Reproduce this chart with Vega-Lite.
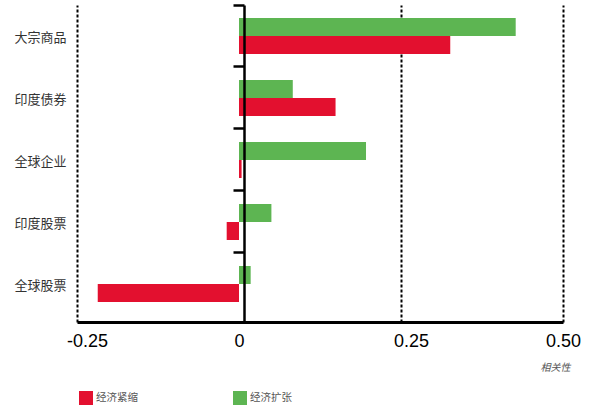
{
  "$schema": "https://vega.github.io/schema/vega-lite/v6.json",
  "width": 486,
  "height": 317,
  "autosize": {"type": "none"},
  "padding": {"left": 77, "top": 5, "right": 32, "bottom": 90},
  "background": "white",
  "config": {"view": {"stroke": null}},
  "data": {
    "values": [
      {"asset": "大宗商品", "regime": "经济扩张", "corr": 0.427},
      {"asset": "大宗商品", "regime": "经济紧缩", "corr": 0.326},
      {"asset": "印度债券", "regime": "经济扩张", "corr": 0.083},
      {"asset": "印度债券", "regime": "经济紧缩", "corr": 0.149},
      {"asset": "全球企业", "regime": "经济扩张", "corr": 0.196},
      {"asset": "全球企业", "regime": "经济紧缩", "corr": 0.004},
      {"asset": "印度股票", "regime": "经济扩张", "corr": 0.05},
      {"asset": "印度股票", "regime": "经济紧缩", "corr": -0.019},
      {"asset": "全球股票", "regime": "经济扩张", "corr": 0.018},
      {"asset": "全球股票", "regime": "经济紧缩", "corr": -0.218}
    ]
  },
  "mark": {"type": "bar"},
  "encoding": {
    "y": {
      "field": "asset",
      "type": "nominal",
      "scale": {
        "domain": ["大宗商品", "印度债券", "全球企业", "印度股票", "全球股票"],
        "paddingInner": 0,
        "paddingOuter": 0.0565,
        "align": 0
      },
      "axis": {
        "title": null,
        "offset": -167,
        "zindex": 1,
        "domainColor": "black",
        "domainWidth": 2.5,
        "tickColor": "black",
        "tickWidth": 2.5,
        "tickSize": 11,
        "bandPosition": 0,
        "tickExtra": false,
        "labelPadding": 167,
        "labelFont": "Noto Sans CJK SC",
        "labelFontSize": 13,
        "labelColor": "#333333",
        "labelOffset": 2
      }
    },
    "yOffset": {
      "field": "regime",
      "type": "nominal",
      "scale": {
        "domain": ["经济扩张", "经济紧缩"],
        "paddingInner": 0,
        "paddingOuter": 0.72
      }
    },
    "x": {
      "field": "corr",
      "type": "quantitative",
      "scale": {"domain": [-0.25, 0.5], "nice": false, "zero": false},
      "axis": {
        "values": [-0.25, 0, 0.25, 0.5],
        "labelExpr": "datum.value === 0 ? '0' : replace(format(datum.value, '.2f'), '\u2212', '-')",
        "labelFlush": false,
        "labelOverlap": false,
        "domainColor": "black",
        "domainWidth": 3,
        "ticks": false,
        "tickSize": 0,
        "labelFont": "Liberation Sans",
        "labelFontSize": 18,
        "labelColor": "black",
        "labelBaseline": "alphabetic",
        "labelPadding": 24,
        "labelOffset": {"condition": {"test": "abs(datum.value) === 0.25", "value": 10}, "value": 0},
        "grid": true,
        "gridColor": "black",
        "gridWidth": 2,
        "gridDash": [3, 2],
        "gridOpacity": {"condition": {"test": "datum.value === 0", "value": 0}, "value": 1},
        "title": "相关性",
        "titleFont": "Noto Sans CJK SC",
        "titleFontStyle": "italic",
        "titleFontWeight": "normal",
        "titleFontSize": 10,
        "titleColor": "#555555",
        "titleAnchor": null,
        "titleAlign": "right",
        "titleBaseline": "middle",
        "titleX": 493,
        "titleY": 45
      }
    },
    "color": {
      "field": "regime",
      "type": "nominal",
      "scale": {"domain": ["经济紧缩", "经济扩张"], "range": ["#e3102f", "#5db552"]},
      "legend": {
        "title": null,
        "orient": "none",
        "legendX": 2,
        "legendY": 386,
        "direction": "horizontal",
        "padding": 0,
        "symbolType": "square",
        "symbolSize": 196,
        "symbolStrokeWidth": 0,
        "labelFont": "Noto Sans CJK SC",
        "labelFontSize": 10.5,
        "labelColor": "#555555",
        "labelOffset": 3,
        "columnPadding": 95
      }
    }
  }
}
